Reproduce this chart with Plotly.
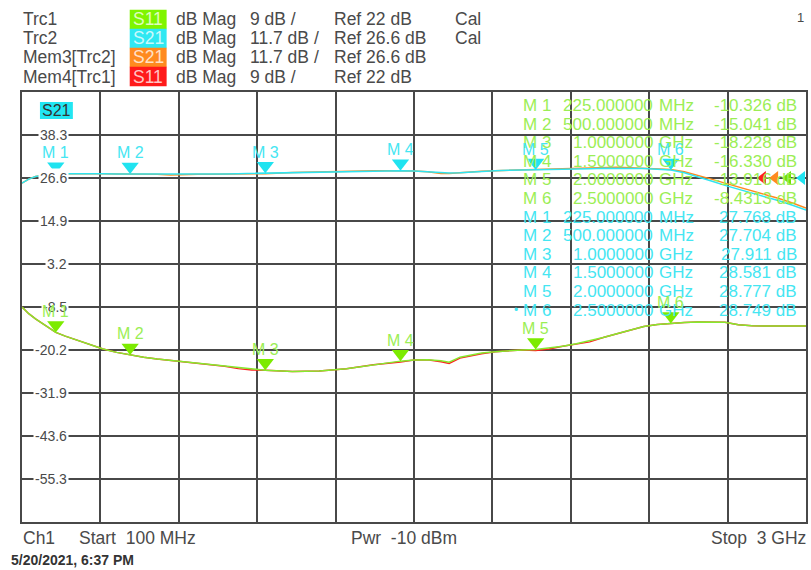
import plotly.graph_objects as go

# ---------------- data ----------------
freq_mhz = [100, 125, 150, 175, 200, 225, 260, 300, 350, 400, 450, 500, 550, 600, 650, 700,
            750, 800, 850, 900, 950, 1000, 1100, 1200, 1300, 1400, 1450, 1500, 1550, 1600,
            1650, 1680, 1720, 1760, 1800, 1850, 1900, 1950, 2000, 2050, 2100, 2150, 2200,
            2250, 2300, 2350, 2400, 2450, 2500, 2550, 2600, 2650, 2700, 2750, 2800, 2850,
            2900, 2950, 3000]

s21_db = [25.2, 26.3, 27.0, 27.4, 27.65, 27.768, 27.8, 27.8, 27.78, 27.75, 27.72, 27.704,
          27.68, 27.65, 27.62, 27.6, 27.6, 27.62, 27.68, 27.78, 27.85, 27.911, 28.1, 28.3,
          28.45, 28.55, 28.58, 28.581, 28.5, 28.3, 28.05, 27.95, 28.05, 28.25, 28.45, 28.6,
          28.7, 28.75, 28.777, 28.85, 28.95, 29.05, 29.15, 29.25, 29.3, 29.3, 29.2, 29.0,
          28.749, 28.0, 27.0, 25.8, 24.6, 23.6, 22.6, 21.5, 20.4, 19.2, 17.9]

mem3_s21_db = [25.2, 26.3, 27.0, 27.4, 27.65, 27.768, 27.8, 27.8, 27.78, 27.75, 27.72, 27.704,
               27.68, 27.6, 27.45, 27.43, 27.6, 27.62, 27.68, 27.78, 27.8, 27.75, 28.1, 28.3,
               28.45, 28.55, 28.58, 28.581, 28.5, 28.3, 27.85, 27.8, 28.05, 28.25, 28.45, 28.6,
               28.7, 28.75, 28.777, 28.85, 28.95, 29.1, 29.3, 29.45, 29.5, 29.4, 29.2, 29.0,
               28.9, 28.3, 27.4, 26.3, 25.2, 24.2, 23.2, 22.1, 21.0, 19.8, 18.4]

s11_db = [-5.0, -6.4, -7.5, -8.5, -9.4, -10.326, -11.1, -11.9, -12.9, -13.8, -14.5, -15.041,
          -15.5, -15.9, -16.2, -16.5, -16.8, -17.1, -17.4, -17.7, -18.0, -18.228, -18.5, -18.4,
          -17.9, -17.1, -16.7, -16.33, -16.1, -16.05, -16.25, -16.55, -15.5, -15.0, -14.65,
          -14.35, -14.15, -14.0, -13.916, -13.6, -13.2, -12.7, -12.1, -11.4, -10.6, -9.8,
          -9.1, -8.65, -8.4313, -8.25, -8.15, -8.1, -8.2, -8.7, -8.95, -9.0, -9.0, -9.0, -9.0]

mem4_s11_db = [-5.0, -6.4, -7.5, -8.5, -9.4, -10.326, -11.1, -11.9, -12.9, -13.8, -14.5, -15.041,
               -15.5, -15.9, -16.2, -16.5, -16.8, -17.1, -17.4, -17.9, -18.2, -18.228, -18.5, -18.4,
               -17.9, -17.1, -16.85, -16.5, -16.1, -16.05, -16.45, -16.8, -15.7, -15.2, -14.8,
               -14.35, -14.15, -14.0, -14.1, -13.8, -13.2, -12.7, -12.3, -11.4, -10.6, -9.8,
               -9.1, -8.65, -8.4313, -8.25, -8.15, -8.1, -8.2, -8.7, -8.95, -9.0, -9.0, -9.0, -9.0]

marker_names = ["M 1", "M 2", "M 3", "M 4", "M 5", "M 6"]
marker_freq_mhz = [225, 500, 1000, 1500, 2000, 2500]
marker_freq_text = ["225.000000", "500.000000", "1.0000000", "1.5000000", "2.0000000", "2.5000000"]
marker_freq_unit = ["MHz", "MHz", "GHz", "GHz", "GHz", "GHz"]
s11_marker_db = [-10.326, -15.041, -18.228, -16.330, -13.916, -8.4313]
s21_marker_db = [27.768, 27.704, 27.911, 28.581, 28.777, 28.749]
s11_marker_text = ["-10.326 dB", "-15.041 dB", "-18.228 dB", "-16.330 dB", "-13.916 dB", "-8.4313 dB"]
s21_marker_text = ["27.768 dB", "27.704 dB", "27.911 dB", "28.581 dB", "28.777 dB", "28.749 dB"]

y_tick_values = [38.3, 26.6, 14.9, 3.2, -8.5, -20.2, -31.9, -43.6, -55.3]
y_tick_labels = ["38.3", "26.6", "14.9", "3.2", "-8.5", "-20.2", "-31.9", "-43.6", "-55.3"]

hdr_names = ["Trc1", "Trc2", "Mem3[Trc2]", "Mem4[Trc1]"]
hdr_params = ["S11", "S21", "S21", "S11"]
hdr_formats = ["dB Mag", "dB Mag", "dB Mag", "dB Mag"]
hdr_scales = ["9 dB /", "11.7 dB /", "11.7 dB /", "9 dB /"]
hdr_refs = ["Ref 22 dB", "Ref 26.6 dB", "Ref 26.6 dB", "Ref 22 dB"]
hdr_cal = ["Cal", "Cal", "", ""]

s21_ref_db = 26.6
s11_ref_db = 22.0

# ---------------- styles / layout ----------------
W, H = 811, 570
L, R, T, B = 22, 808, 92, 522
GREEN = "#86EA2E"
GREEN_TXT = "#9BEE55"
CYAN = "#2FE4F0"
CYAN_TXT = "#45E6F2"
ORANGE = "#FF8A1F"
RED = "#FF2020"
GRID = "#484848"
TXT = "#4a4a4a"
FONT = "Liberation Sans, Arial, sans-serif"
hdr_box_colors = ["#7FF500", "#2FE8F2", "#FF8A1F", "#FF1A1A"]


def fx(px):
    return (px - L) / (R - L)


def fy(py):
    return (B - py) / (B - T)


fig = go.Figure()

fig.add_trace(go.Scatter(x=freq_mhz, y=mem3_s21_db, mode="lines", yaxis="y",
                         line=dict(color=ORANGE, width=1.5), hoverinfo="skip"))
fig.add_trace(go.Scatter(x=freq_mhz, y=mem4_s11_db, mode="lines", yaxis="y2",
                         line=dict(color=RED, width=1.5), hoverinfo="skip"))
fig.add_trace(go.Scatter(x=freq_mhz, y=s21_db, mode="lines", yaxis="y",
                         line=dict(color=CYAN, width=1.5), hoverinfo="skip"))
fig.add_trace(go.Scatter(x=freq_mhz, y=s11_db, mode="lines", yaxis="y2",
                         line=dict(color=GREEN, width=1.5), hoverinfo="skip"))

# down-pointing marker triangles with their tip on the trace
tri = dict(symbol="triangle-up", angle=180, size=15, standoff=7.5)
fig.add_trace(go.Scatter(x=marker_freq_mhz, y=s21_marker_db, mode="markers", yaxis="y",
                         marker=dict(color="#20E3F0", **tri), hoverinfo="skip"))
fig.add_trace(go.Scatter(x=marker_freq_mhz, y=s11_marker_db, mode="markers", yaxis="y2",
                         marker=dict(color="#7CEB00", **tri), hoverinfo="skip"))

# reference level indicators on the right edge
ref_pos = [0.945, 0.9606, 0.977, 0.9949]
fig.add_trace(go.Scatter(x=[ref_pos[0], ref_pos[2]], y=[s11_ref_db, s11_ref_db], xaxis="x2", yaxis="y2",
                         mode="markers", cliponaxis=False, hoverinfo="skip",
                         marker=dict(symbol="triangle-left", size=12, color=[RED, "#6FE000"])))
fig.add_trace(go.Scatter(x=[ref_pos[1], ref_pos[3]], y=[s21_ref_db, s21_ref_db], xaxis="x2", yaxis="y",
                         mode="markers", cliponaxis=False, hoverinfo="skip",
                         marker=dict(symbol="triangle-left", size=12, color=[ORANGE, "#20E3F0"])))

ann = []
shapes = []


def text(px, py, s, size=17, color=TXT, xanchor="left", bold=False, bg=None):
    d = dict(x=fx(px), y=fy(py), xref="paper", yref="paper", text=("<b>%s</b>" % s) if bold else s,
             showarrow=False, xanchor=xanchor, yanchor="middle",
             font=dict(family=FONT, size=size, color=color))
    if bg:
        d["bgcolor"] = bg
    ann.append(d)


# header
row_y = [19.5, 38.5, 57.5, 76.5]
for i in range(4):
    y = row_y[i]
    text(21, y, hdr_names[i], size=17.5)
    shapes.append(dict(type="rect", xref="paper", yref="paper", x0=fx(130), x1=fx(167),
                       y0=fy(y + 9.7), y1=fy(y - 9.7), fillcolor=hdr_box_colors[i], line=dict(width=0)))
    text(148.5, y, hdr_params[i], size=17.5, color="rgba(255,255,255,0.75)", xanchor="center")
    text(174, y, hdr_formats[i], size=17.5)
    text(249, y, hdr_scales[i], size=17.5)
    text(333, y, hdr_refs[i], size=17.5)
    if hdr_cal[i]:
        text(454, y, hdr_cal[i], size=17.5)
text(808, 18, "1", size=13, xanchor="right")

# active trace label
shapes.append(dict(type="rect", xref="paper", yref="paper", x0=fx(40), x1=fx(73),
                   y0=fy(119), y1=fy(102), fillcolor="#22E6F2", line=dict(width=0)))
text(56.5, 110.5, "S21", size=16, color="#333333", xanchor="center")

# y tick labels inside plot
for v, lab in zip(y_tick_values, y_tick_labels):
    ann.append(dict(x=fx(69), y=v, xref="paper", yref="y", text=lab, showarrow=False,
                    xanchor="right", yanchor="middle", bgcolor="white", borderpad=1,
                    font=dict(family=FONT, size=14, color=TXT)))

# marker table
row0, dy = 105.5, 18.6
for i in range(6):
    y = row0 + dy * i
    text(522, y, marker_names[i], size=17, color=GREEN_TXT)
    text(657, y, marker_freq_text[i], size=17, color=GREEN_TXT, xanchor="right")
    text(659, y, marker_freq_unit[i], size=17, color=GREEN_TXT)
    text(801, y, s11_marker_text[i], size=17, color=GREEN_TXT, xanchor="right")
for i in range(6):
    y = row0 + dy * (6 + i)
    text(522, y, marker_names[i], size=17, color=CYAN_TXT)
    text(657, y, marker_freq_text[i], size=17, color=CYAN_TXT, xanchor="right")
    text(659, y, marker_freq_unit[i], size=17, color=CYAN_TXT)
    text(801, y, s21_marker_text[i], size=17, color=CYAN_TXT, xanchor="right")
text(521, row0 + dy * 11, "\u2022", size=12, color=CYAN_TXT, xanchor="right")

# marker labels above triangles
for i in range(6):
    ann.append(dict(x=marker_freq_mhz[i], y=s21_marker_db[i], xref="x", yref="y", text=marker_names[i],
                    showarrow=False, xanchor="center", yanchor="middle", yshift=21,
                    font=dict(family=FONT, size=16, color=CYAN_TXT)))
    ann.append(dict(x=marker_freq_mhz[i], y=s11_marker_db[i], xref="x", yref="y2", text=marker_names[i],
                    showarrow=False, xanchor="center", yanchor="middle", yshift=21,
                    font=dict(family=FONT, size=16, color=GREEN_TXT)))

# footer
text(21, 538, "Ch1", size=17.5)
text(77, 538, "Start&nbsp;&nbsp;100 MHz", size=17.5)
text(350, 538, "Pwr&nbsp;&nbsp;-10 dBm", size=17.5)
text(810, 538, "Stop&nbsp;&nbsp;3 GHz", size=17.5, xanchor="right")
text(9, 560, "5/20/2021, 6:37 PM", size=14, color="#333333", bold=True)

fig.update_layout(
    width=W, height=H,
    margin=dict(l=L, r=W - R, t=T, b=H - B, pad=0),
    paper_bgcolor="white", plot_bgcolor="white",
    showlegend=False,
    annotations=ann, shapes=shapes,
    xaxis=dict(range=[100, 3000], tick0=100, dtick=290, showgrid=True, gridcolor=GRID, gridwidth=1.5,
               showticklabels=False, ticks="", zeroline=False, showline=True, mirror=True,
               linecolor=GRID, linewidth=1.5, fixedrange=True),
    xaxis2=dict(range=[0, 1], overlaying="x", visible=False, fixedrange=True),
    yaxis=dict(range=[-67.0, 50.0], tick0=26.6, dtick=11.7, showgrid=True, gridcolor=GRID, gridwidth=1.5,
               showticklabels=False, ticks="", zeroline=False, showline=True, mirror=True,
               linecolor=GRID, linewidth=1.5, fixedrange=True),
    yaxis2=dict(range=[-50.0, 40.0], overlaying="y", visible=False, fixedrange=True),
)

fig.write_html("out.html", config={"displayModeBar": False},
               post_script="document.body.style.margin='0';document.body.style.overflow='hidden';")
